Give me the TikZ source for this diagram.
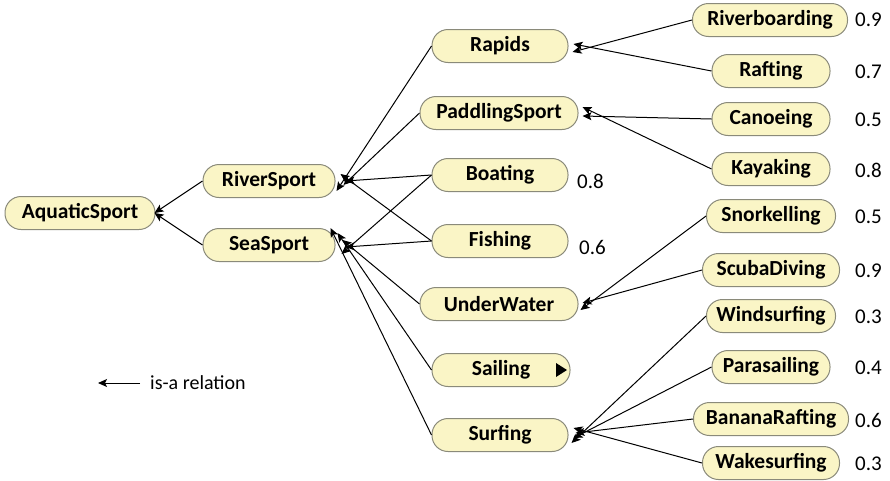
\documentclass[tikz,border=0pt]{standalone}
\usepackage{fontspec}
\setmainfont{Carlito}
\usetikzlibrary{arrows.meta}
\definecolor{pillfill}{HTML}{FAF5C6}
\definecolor{pilledge}{HTML}{8A8A7A}
\begin{document}
\begin{tikzpicture}[x=1pt,y=-1pt,
  pill/.style={draw=pilledge,line width=1pt,fill=pillfill,rounded corners=16pt,
    minimum height=33pt,inner sep=0pt,font=\fontsize{21.5}{24}\selectfont\bfseries},
  score/.style={anchor=west,inner sep=0pt,font=\fontsize{21}{24}\selectfont},
  isa/.style={-{Stealth[length=9pt,width=8pt,inset=2pt]},line width=1pt,black}]
\useasboundingbox (0,0) rectangle (890,480);

% level 0 and 1
\node[pill,minimum width=150pt] (aq) at (80,213) {AquaticSport};
\node[pill,minimum width=132pt] (river) at (269,181) {RiverSport};
\node[pill,minimum width=132pt] (sea) at (269,245) {SeaSport};

% level 2
\node[pill,minimum width=136pt] (rapids) at (500,46) {Rapids};
\node[pill,minimum width=158pt] (paddle) at (499,113) {PaddlingSport};
\node[pill,minimum width=136pt] (boat) at (500,175) {Boating};
\node[pill,minimum width=136pt] (fish) at (500,241) {Fishing};
\node[pill,minimum width=158pt] (under) at (499,304) {UnderWater};
\node[pill,minimum width=138pt] (sail) at (501,370) {Sailing};
\node[pill,minimum width=136pt] (surf) at (500,435) {Surfing};
\fill (556,363) -- (556,377) -- (567,370) -- cycle;

% level 3
\node[pill,minimum width=155pt] (rboard) at (770,20) {Riverboarding};
\node[pill,minimum width=118pt] (raft) at (771,71) {Rafting};
\node[pill,minimum width=118pt] (canoe) at (771,119) {Canoeing};
\node[pill,minimum width=118pt] (kayak) at (771,169) {Kayaking};
\node[pill,minimum width=129pt] (snork) at (771,216) {Snorkelling};
\node[pill,minimum width=137pt] (scuba) at (771,270) {ScubaDiving};
\node[pill,minimum width=129pt] (wind) at (771,316) {Windsurfing};
\node[pill,minimum width=118pt] (para) at (771,367) {Parasailing};
\node[pill,minimum width=155pt] (banana) at (771,419) {BananaRafting};
\node[pill,minimum width=137pt] (wake) at (771,463) {Wakesurfing};

% scores
\node[score] at (855,20) {0.9};
\node[score] at (855,72) {0.7};
\node[score] at (855,120) {0.5};
\node[score] at (855,170) {0.8};
\node[score] at (855,217) {0.5};
\node[score] at (855,271) {0.9};
\node[score] at (855,317) {0.3};
\node[score] at (855,368) {0.4};
\node[score] at (855,420) {0.6};
\node[score] at (855,464) {0.3};
\node[score] at (577,181) {0.8};
\node[score] at (579,247) {0.6};

% is-a edges
\draw[isa] (river.west) -- ([xshift=-1pt]aq.east);
\draw[isa] (sea.west) -- ([xshift=-1pt]aq.east);

\draw[isa] (rapids.west) -- ([xshift=1pt,yshift=-10pt]river.east);
\draw[isa] (paddle.west) -- ([xshift=8pt,yshift=-4pt]river.east);
\draw[isa] (boat.west) -- ([xshift=10pt]river.east);
\draw[isa] (fish.west) -- ([xshift=5pt,yshift=7pt]river.east);
\draw[isa] (boat.west) -- ([xshift=6pt,yshift=-9pt]sea.east);
\draw[isa] (fish.west) -- ([xshift=10pt,yshift=-2pt]sea.east);
\draw[isa] (under.west) -- ([xshift=7pt,yshift=5pt]sea.east);
\draw[isa] (sail.west) -- ([xshift=2pt,yshift=12pt]sea.east);
\draw[isa] (surf.west) -- ([xshift=-5pt,yshift=17pt]sea.east);

\draw[isa] (rboard.west) -- ([xshift=4pt,yshift=-6pt]rapids.east);
\draw[isa] (raft.west) -- ([xshift=5pt,yshift=2pt]rapids.east);
\draw[isa] (canoe.west) -- ([xshift=4pt,yshift=-3pt]paddle.east);
\draw[isa] (kayak.west) -- ([xshift=4pt,yshift=6pt]paddle.east);
\draw[isa] (snork.west) -- ([xshift=2pt,yshift=-6pt]under.east);
\draw[isa] (scuba.west) -- ([xshift=4pt,yshift=1pt]under.east);
\draw[isa] (wind.west) -- ([xshift=3pt,yshift=-8pt]surf.east);
\draw[isa] (para.west) -- ([xshift=5pt,yshift=-3pt]surf.east);
\draw[isa] (banana.west) -- ([xshift=7pt,yshift=2pt]surf.east);
\draw[isa] (wake.west) -- ([xshift=5pt,yshift=7pt]surf.east);

% legend
\coordinate (lgA) at (140,383);
\coordinate (lgB) at (98,383);
\draw[isa] (lgA) -- (lgB);
\node[anchor=west,inner sep=0pt,font=\fontsize{20}{24}\selectfont] (lgT) at (150,383) {is-a relation};
\end{tikzpicture}
\end{document}
